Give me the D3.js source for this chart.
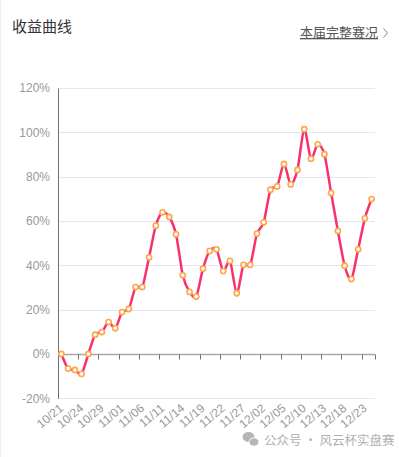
<!DOCTYPE html>
<html>
<head>
<meta charset="utf-8">
<script src="https://cdn.jsdelivr.net/npm/d3@7"></script>
<style>
  html, body { margin: 0; padding: 0; background: #fff; }
  svg { display: block; }
</style>
</head>
<body>
<div id="chart"></div>
<script>
// trading days shown on the x axis
var dates = ["10/21","10/22","10/23","10/24","10/25","10/28","10/29","10/30","10/31","11/01",
             "11/04","11/05","11/06","11/07","11/08","11/11","11/12","11/13","11/14","11/15",
             "11/18","11/19","11/20","11/21","11/22","11/25","11/26","11/27","11/28","11/29",
             "12/02","12/03","12/04","12/05","12/06","12/09","12/10","12/11","12/12","12/13",
             "12/16","12/17","12/18","12/19","12/20","12/23","12/24"];
// cumulative return, percent
var returns = [0, -6.6, -7.2, -9.0, 0, 8.7, 9.9, 14.4, 11.6, 18.9,
               20.3, 30.2, 30.2, 43.6, 57.9, 63.9, 61.8, 54.0, 35.5, 28.0,
               25.9, 38.5, 46.5, 47.2, 37.4, 42.0, 27.4, 40.2, 40.2, 54.3,
               59.4, 74.1, 75.6, 85.7, 76.5, 83.0, 101.4, 88.1, 94.6, 90.1,
               72.6, 55.5, 39.8, 33.8, 47.2, 61.2, 69.9];
var yTicks = [-20, 0, 20, 40, 60, 80, 100, 120];
var labelEvery = 3;

var w = 399, h = 457;
var plotLeft = 58, plotRight = 375, plotTop = 88, plotBottom = 398.3;

var svg = d3.select("#chart").append("svg").attr("width", w).attr("height", h);

// faint card border on the left
svg.append("line").attr("x1", 0.5).attr("x2", 0.5).attr("y1", 0).attr("y2", h)
    .attr("stroke", "#eeeeee");

// header
svg.append("text").attr("x", 12).attr("y", 32)
    .style("font-family", "'Noto Sans CJK SC', sans-serif").style("font-size", "15px")
    .attr("fill", "#333").text("收益曲线");
svg.append("text").attr("x", 300).attr("y", 37)
    .style("font-family", "'Noto Sans CJK SC', sans-serif").style("font-size", "13px")
    .style("text-decoration", "underline")
    .attr("fill", "#555").text("本届完整赛况");
svg.append("path").attr("d", "M383.5,28.5 L387.5,33 L383.5,37.5")
    .attr("fill", "none").attr("stroke", "#888").attr("stroke-width", 1);

// scales
var xScale = d3.scaleBand().domain(dates).range([plotLeft, plotRight]).padding(0);
var yScale = d3.scaleLinear().domain([-20, 120]).range([plotBottom, plotTop]);
var cx = function(d, i) { return xScale(dates[i]) + xScale.bandwidth() / 2; };

// grid lines
svg.append("g").selectAll("line").data(yTicks.filter(function(t) { return t !== 0; })).enter()
    .append("line")
    .attr("x1", plotLeft).attr("x2", plotRight)
    .attr("y1", function(d) { return Math.round(yScale(d)) + 0.5; })
    .attr("y2", function(d) { return Math.round(yScale(d)) + 0.5; })
    .attr("stroke", "#e3e7f1").attr("stroke-width", 1);

// y axis
var yAxis = d3.axisLeft(yScale).tickValues(yTicks).tickSize(0).tickPadding(8)
    .tickFormat(function(d) { return d + "%"; });
var gy = svg.append("g").attr("transform", "translate(" + plotLeft + ",0)").call(yAxis);
gy.select(".domain").attr("stroke", "#6e7079");
gy.selectAll("text").attr("fill", "#999").style("font-family", "'Liberation Sans', Arial, sans-serif")
    .style("font-size", "12px");

// x axis sitting on the 0% line; ticks at band boundaries
var zeroY = Math.round(yScale(0)) + 0.5;
var gx = svg.append("g");
gx.append("line").attr("x1", plotLeft).attr("x2", plotRight).attr("y1", zeroY).attr("y2", zeroY)
    .attr("stroke", "#a8a8ad").attr("stroke-width", 1.5);
var tickIdx = d3.range(0, dates.length, labelEvery).concat([dates.length]);
gx.selectAll("line.tick").data(tickIdx).enter().append("line").attr("class", "tick")
    .attr("x1", function(d) { return Math.round(plotLeft + d * xScale.bandwidth()) + 0.5; })
    .attr("x2", function(d) { return Math.round(plotLeft + d * xScale.bandwidth()) + 0.5; })
    .attr("y1", zeroY).attr("y2", zeroY + 5)
    .attr("stroke", "#6e7079").attr("stroke-width", 1);

// rotated date labels below the plot
var labelIdx = d3.range(0, dates.length, labelEvery);
svg.append("g").selectAll("text").data(labelIdx).enter().append("text")
    .attr("transform", function(i) {
        return "translate(" + (xScale(dates[i]) + xScale.bandwidth() / 2) + "," + (plotBottom + 8) + ") rotate(-40)";
    })
    .attr("text-anchor", "end").attr("dy", "0.35em")
    .attr("fill", "#999").style("font-family", "'Liberation Sans', Arial, sans-serif")
    .style("font-size", "12px")
    .text(function(i) { return dates[i]; });

// line
var line = d3.line()
    .x(cx)
    .y(function(d) { return yScale(d); })
    .curve(d3.curveCardinal.tension(0.2));
svg.append("path").datum(returns).attr("d", line)
    .attr("fill", "none").attr("stroke", "#f7326a").attr("stroke-width", 2.5)
    .attr("stroke-linejoin", "round");

// points
svg.append("g").selectAll("circle").data(returns).enter().append("circle")
    .attr("cx", cx).attr("cy", function(d) { return yScale(d); })
    .attr("r", 2.6).attr("fill", "#fff").attr("stroke", "#fca64f").attr("stroke-width", 1.6);

// watermark
var wm = svg.append("g").attr("fill", "#b5b5b5");
wm.append("ellipse").attr("cx", 248.5).attr("cy", 437).attr("rx", 6).attr("ry", 5);
wm.append("ellipse").attr("cx", 254).attr("cy", 442).attr("rx", 5).attr("ry", 4.2)
    .attr("stroke", "#fff").attr("stroke-width", 1);
svg.append("text").attr("x", 264).attr("y", 445)
    .style("font-family", "'Noto Sans CJK SC', sans-serif").style("font-size", "12.5px")
    .attr("fill", "#b0b0b0").text("公众号 · 风云杯实盘赛");
</script>
</body>
</html>
